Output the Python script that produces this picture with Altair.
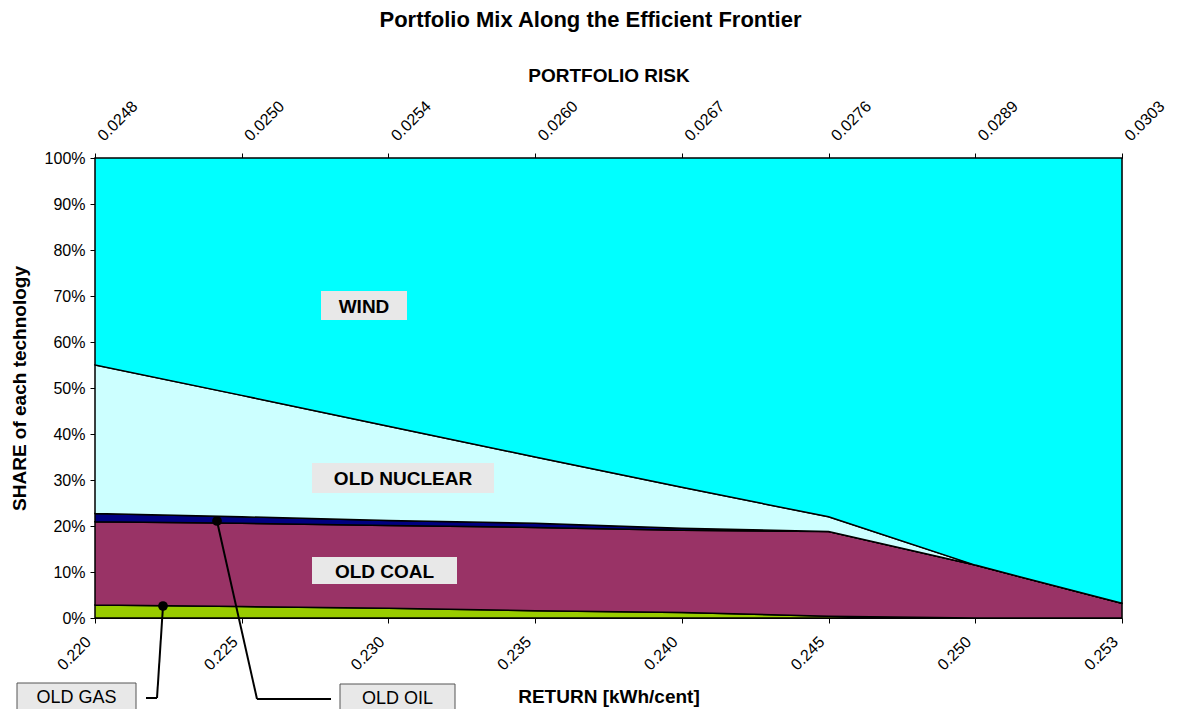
import altair as alt
import pandas as pd

# ---- data ----
returns = ["0.220", "0.225", "0.230", "0.235", "0.240", "0.245", "0.250", "0.253"]
risks = ["0.0248", "0.0250", "0.0254", "0.0260", "0.0267", "0.0276", "0.0289", "0.0303"]

gas = [2.8, 2.5, 2.1, 1.6, 1.2, 0.4, 0.0, 0.0]
coal = [18.1, 18.1, 18.0, 18.1, 17.9, 18.4, 11.5, 3.2]
oil = [1.8, 1.4, 1.1, 0.9, 0.4, 0.0, 0.0, 0.0]
nuclear = [32.3, 26.4, 20.5, 14.4, 8.9, 3.2, 0.0, 0.0]
wind = [45.0, 51.6, 58.3, 65.0, 71.6, 78.0, 88.5, 96.8]

techs = ["OLD GAS", "OLD COAL", "OLD OIL", "OLD NUCLEAR", "WIND"]
series = [gas, coal, oil, nuclear, wind]
colors = ["#99CC00", "#993366", "#000080", "#CCFFFF", "#00FFFF"]

rows = []
for order, (name, vals) in enumerate(zip(techs, series)):
    for i, v in enumerate(vals):
        rows.append({"idx": i, "tech": name, "share": v, "ord": order})
df = pd.DataFrame(rows)
ticks_df = pd.DataFrame({"idx": list(range(len(returns)))})

FONT = "Liberation Sans"
ret_expr = "[" + ",".join("'%s'" % r for r in returns) + "][datum.value]"
risk_expr = "[" + ",".join("'%s'" % r for r in risks) + "][datum.value]"

xscale = alt.Scale(domain=[0, len(returns) - 1], nice=False, zero=False)

common = dict(labelFont=FONT, labelFontSize=16, labelColor="black",
              titleFont=FONT, titleFontSize=19, titleFontWeight="bold", titleColor="black",
              domainColor="black", tickColor="black", domainWidth=1, grid=False)

areas = alt.Chart(df).mark_area(stroke="black", strokeWidth=1.5, opacity=1).encode(
    x=alt.X("idx:Q", scale=xscale,
            axis=alt.Axis(orient="bottom", values=list(range(len(returns))),
                          labelExpr=ret_expr, labelAngle=-45, labelAlign="right",
                          labelBaseline="middle", labelPadding=16, labelOffset=-7,
                          tickSize=5, title="RETURN [kWh/cent]", titlePadding=15, **common)),
    y=alt.Y("share:Q", stack="zero",
            scale=alt.Scale(domain=[0, 100], nice=False),
            axis=alt.Axis(values=list(range(0, 101, 10)), labelExpr="datum.value + '%'",
                          title="SHARE of each technology", titlePadding=15,
                          labelPadding=5, tickSize=5, **common)),
    color=alt.Color("tech:N", scale=alt.Scale(domain=techs, range=colors), legend=None),
    order=alt.Order("ord:Q"),
)

top_axis = alt.Chart(ticks_df).mark_point(opacity=0).encode(
    x=alt.X("idx:Q", scale=xscale,
            axis=alt.Axis(orient="top", values=list(range(len(risks))),
                          labelExpr=risk_expr, labelAngle=-45, labelAlign="left",
                          labelBaseline="middle", labelPadding=15, labelOffset=5,
                          tickSize=5, title="PORTFOLIO RISK", titlePadding=12, **common)),
    y=alt.value(0),
)

# ---- annotations (pixel positions relative to plot area) ----
box_names = ["WIND", "OLD NUCLEAR", "OLD COAL"]
boxes = pd.DataFrame({
    "label": box_names,
    "x0": [226, 217, 217], "x1": [312, 399, 362],
    "y0": [133, 305, 399], "y1": [162, 335, 426],
})
box_rects = alt.Chart(boxes).mark_rect(fill="#E8E8E8").encode(
    x=alt.X("x0:Q", scale=None), x2="x1:Q",
    y=alt.Y("y0:Q", scale=None), y2="y1:Q",
)
box_text = alt.Chart(boxes).mark_text(font=FONT, fontSize=19, fontWeight="bold",
                                      color="black", baseline="middle").encode(
    x=alt.X("xc:Q", scale=None), y=alt.Y("yc:Q", scale=None), text="label:N",
).transform_calculate(xc="(datum.x0 + datum.x1) / 2", yc="(datum.y0 + datum.y1) / 2 + 1")

callouts = pd.DataFrame({
    "label": ["OLD GAS", "OLD OIL"],
    "x0": [-78, 245], "x1": [41, 360],
    "y0": [525, 526], "y1": [562, 562],
})
call_rects = alt.Chart(callouts).mark_rect(fill="#E8E8E8", stroke="#555555",
                                            strokeWidth=1, clip=False).encode(
    x=alt.X("x0:Q", scale=None), x2="x1:Q",
    y=alt.Y("y0:Q", scale=None), y2="y1:Q",
)
call_text = alt.Chart(callouts).mark_text(font=FONT, fontSize=18, color="black",
                                          baseline="middle").encode(
    x=alt.X("xc:Q", scale=None), y=alt.Y("yc:Q", scale=None), text="label:N",
).transform_calculate(xc="(datum.x0 + datum.x1) / 2", yc="datum.y0 + 15")

leaders = pd.DataFrame({
    "x0": [68, 62, 122, 162], "y0": [448, 540, 363, 541],
    "x1": [62, 51, 162, 236], "y1": [540, 540, 541, 541],
})
leader_lines = alt.Chart(leaders).mark_rule(color="black", strokeWidth=2, clip=False).encode(
    x=alt.X("x0:Q", scale=None), y=alt.Y("y0:Q", scale=None),
    x2="x1:Q", y2="y1:Q",
)
dots = pd.DataFrame({"x": [68, 122], "y": [448, 363]})
dot_marks = alt.Chart(dots).mark_circle(color="black", size=95, opacity=1).encode(
    x=alt.X("x:Q", scale=None), y=alt.Y("y:Q", scale=None),
)

chart = alt.layer(
    areas, top_axis, box_rects, box_text, leader_lines, dot_marks, call_rects, call_text
).resolve_axis(x="independent").properties(
    width=1027, height=460,
    title=alt.TitleParams("Portfolio Mix Along the Efficient Frontier", anchor="middle",
                          dx=-18, offset=35, font=FONT, fontSize=22, fontWeight="bold",
                          color="black"),
    autosize=alt.AutoSizeParams(type="none"),
    padding={"left": 87, "top": 150, "right": 52, "bottom": 91},
).configure_view(stroke="black", strokeWidth=1.5).configure(background="white")

chart.save("out.html", embed_options={"renderer": "svg", "actions": False})
